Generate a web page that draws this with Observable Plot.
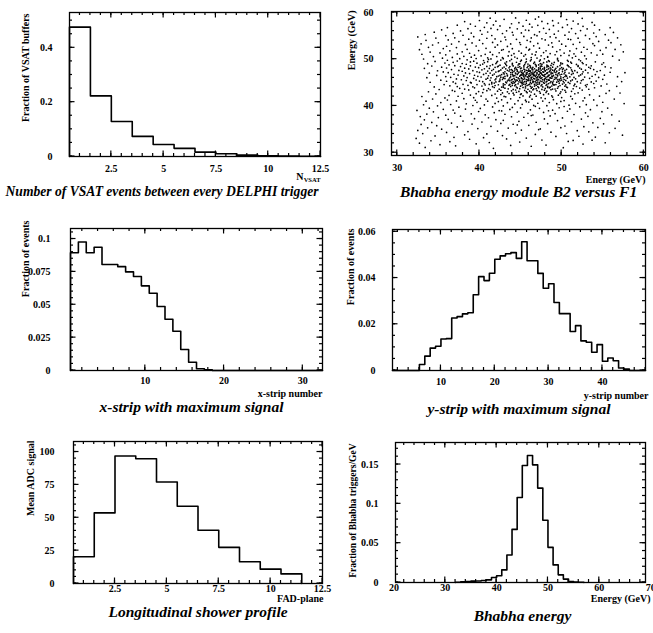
<!DOCTYPE html>
<html><head><meta charset="utf-8">
<script src="https://cdn.jsdelivr.net/npm/d3@7"></script>
<script src="https://cdn.jsdelivr.net/npm/@observablehq/plot@0.6"></script>
<style>
body{margin:0;background:#fff}
#page{position:relative;width:653px;height:633px;background:#fff;overflow:hidden}
#page > svg{position:absolute;overflow:visible}
</style></head><body><div id="page"></div>
<script>
// ---------- data ----------
const vsatN = [1,2,3,4,5,6,7,8,9,10,11,12];
const vsatFraction = [0.476,0.223,0.129,0.074,0.044,0.030,0.016,0.010,0.005,0.003,0.002,0.001];

const xStripNumber = Array.from({length:32},(_,i)=>i+1);
const xStripFraction = [0.0896,0.0977,0.0896,0.0937,0.0806,0.0806,0.0790,0.0750,0.0715,0.0644,0.0588,0.0487,0.0390,0.0298,0.0160,0.0063,0.0013,0.0005,0,0,0,0,0,0,0,0,0,0,0,0,0,0];

const yStripNumber = Array.from({length:47},(_,i)=>i+1);
const yStripFraction = [0,0,0,0,0,0.0026,0.0062,0.0097,0.0105,0.0136,0.0138,0.0227,0.0233,0.0245,0.0250,0.0328,0.0406,0.0389,0.0421,0.0481,0.0496,0.0505,0.0510,0.0485,0.0557,0.0475,0.0475,0.0420,0.0356,0.0375,0.0294,0.0246,0.0246,0.0169,0.0194,0.0128,0.0122,0.0079,0.0112,0.0040,0.0054,0.0042,0.0011,0.0006,0,0,0];

const fadPlane = [1,2,3,4,5,6,7,8,9,10,11];
const meanADC = [20.3,53.7,97.0,94.9,77.2,58.7,40.5,27.5,16.5,10.9,7.3];

const bhabhaEnergy = [32,33,34,35,36,37,38,39,40,41,42,43,44,45,46,47,48,49,50,51,52,53,54,55,56];
const bhabhaFraction = [0.0004,0.0008,0.0012,0.0018,0.0020,0.0025,0.0034,0.0063,0.0085,0.0160,0.0350,0.0675,0.1080,0.1487,0.1614,0.1496,0.1200,0.0792,0.0447,0.0224,0.0097,0.0043,0.0013,0.0006,0.0003];

// scatter: [energy F1 (x), energy B2 (y)] — halo below the core
const scatterHaloLow = [
[33.4,31.12],[37.1,31.46],[41.7,30.93],[46.3,31.38],[50.2,31.07],[35.2,31.71],[43.8,31.55],[52.6,31.84],[39.6,31.9],[48.1,31.62],
[55.3,32.13],[32.7,32.04],[44.9,32.29],[50.8,32.41],[36.4,32.36],[41.2,32.18],[53.7,32.67],[34.1,32.55],[47.6,32.72],[38.8,32.88],[43.3,32.94],[51.4,32.63],
[32.3,33.05],[40.5,33.21],[45.7,33.12],[54.1,33.34],[36.9,33.29],[49.3,33.47],[34.6,33.58],[42.8,33.66],[52.1,33.52],[57.4,33.74],[38.2,33.83],[46.8,33.91],
[33.1,34.08],[40.9,34.02],[44.4,34.19],[50.6,34.11],[55.8,34.27],[36.0,34.33],[48.7,34.38],[38.6,34.52],[42.2,34.61],[53.3,34.46],[32.5,34.77],[45.1,34.83],[51.9,34.72],[47.2,34.95],
[35.4,35.03],[39.8,35.16],[47.4,35.09],[56.5,35.22],[33.7,35.31],[43.5,35.27],[49.9,35.36],[54.4,35.41],[37.3,35.52],[41.4,35.63],[52.7,35.57],[34.8,35.78],[46.0,35.86],[50.4,35.71],[44.6,35.94],
[32.9,36.04],[39.1,36.12],[44.1,36.08],[48.3,36.21],[55.1,36.17],[36.6,36.33],[42.6,36.27],[53.8,36.39],[34.2,36.48],[40.3,36.56],[46.9,36.51],[51.2,36.62],[38.0,36.77],[44.8,36.71],[49.5,36.86],[57.0,36.74],[42.9,36.93],
[33.3,37.02],[36.2,37.14],[42.0,37.06],[52.4,37.19],[39.4,37.28],[47.9,37.23],[54.7,37.36],[35.0,37.51],[41.1,37.47],[45.4,37.58],[50.1,37.44],[32.8,37.73],[37.7,37.81],[43.9,37.69],[48.6,37.86],[53.2,37.77],[46.3,37.95],
[35.9,38.03],[40.7,38.11],[46.5,38.06],[51.5,38.17],[56.1,38.09],[33.6,38.26],[39.0,38.31],[43.1,38.22],[49.2,38.35],[37.0,38.48],[41.8,38.55],[45.9,38.43],[47.8,38.61],[52.9,38.52],[34.4,38.74],[39.9,38.81],[44.6,38.69],[50.7,38.86],[54.9,38.77],[42.7,38.93],[48.4,38.97],
[32.4,39.04],[36.8,39.12],[42.4,39.01],[46.2,39.16],[48.9,39.09],[53.5,39.21],[35.6,39.28],[38.3,39.33],[43.7,39.25],[51.0,39.37],[33.9,39.52],[40.1,39.46],[45.0,39.58],[47.3,39.49],[49.7,39.61],[55.6,39.55],[37.5,39.73],[41.6,39.79],[44.0,39.68],[52.2,39.82],[46.8,39.91],[50.3,39.88],
[34.9,40.03],[39.2,40.09],[42.9,40.01],[46.6,40.12],[48.2,40.06],[50.9,40.17],[54.3,40.11],[33.2,40.26],[36.5,40.31],[40.6,40.22],[45.2,40.35],[53.0,40.28],[38.4,40.47],[41.9,40.53],[44.3,40.44],[47.1,40.58],[49.4,40.49],[51.7,40.56],[57.6,40.51],[35.3,40.72],[39.7,40.78],[43.4,40.69],[46.0,40.83],[48.5,40.74],[55.0,40.79],[42.3,40.94],[45.7,40.91],[49.9,40.97],
[33.5,41.03],[37.2,41.08],[41.0,41.01],[44.7,41.12],[47.7,41.05],[50.3,41.15],[52.6,41.09],[36.1,41.27],[39.5,41.22],[42.7,41.31],[45.6,41.24],[49.0,41.33],[53.9,41.28],[34.3,41.48],[38.1,41.55],[40.8,41.46],[43.8,41.52],[46.4,41.44],[48.0,41.58],[51.3,41.51],[56.4,41.47],[35.8,41.72],[39.3,41.77],[42.1,41.69],[44.9,41.81],[47.5,41.74],[50.0,41.79],[52.8,41.71],[46.1,41.93],[43.2,41.96],[48.9,41.9],
[33.0,42.02],[37.4,42.07],[40.2,42.11],[43.0,42.04],[45.3,42.14],[46.9,42.09],[48.8,42.17],[51.1,42.06],[54.6,42.12],[36.3,42.28],[38.9,42.33],[41.5,42.24],[44.2,42.36],[46.2,42.29],[47.8,42.41],[49.6,42.31],[53.4,42.38],[42.6,42.45],[45.0,42.47]
];
// dense core
const scatterCore = [
[34.7,42.58],[37.9,42.71],[39.6,42.62],[40.4,42.86],[41.9,42.55],[42.8,42.79],[43.6,42.66],[44.5,42.93],[45.1,42.6],[45.8,42.83],[46.7,42.52],[47.4,42.74],[48.1,42.89],[48.4,42.57],[49.8,42.68],[50.5,42.95],[51.6,42.61],[52.0,42.8],[55.4,42.7],[57.1,42.77],[44.1,42.73],[46.3,42.98],
[33.8,43.04],[36.7,43.31],[37.0,43.12],[38.7,43.42],[39.9,43.08],[40.9,43.27],[41.3,43.46],[42.2,43.15],[42.6,43.36],[43.4,43.02],[43.9,43.24],[44.4,43.41],[44.8,43.11],[45.5,43.33],[45.7,43.06],[46.1,43.19],[46.5,43.44],[47.0,43.29],[47.3,43.09],[47.9,43.38],[48.2,43.16],[48.7,43.47],[49.3,43.22],[49.9,43.03],[50.4,43.35],[51.2,43.13],[52.5,43.4],[55.8,43.26],
[35.1,43.52],[37.6,43.77],[38.2,43.61],[39.4,43.88],[40.5,43.55],[41.1,43.72],[41.8,43.94],[42.4,43.59],[43.1,43.81],[43.5,43.66],[44.1,43.53],[44.6,43.86],[44.9,43.7],[45.3,43.97],[45.9,43.57],[46.3,43.79],[46.6,43.63],[47.2,43.91],[47.6,43.54],[48.0,43.74],[48.5,43.87],[48.9,43.6],[49.5,43.78],[50.1,43.51],[50.7,43.93],[51.4,43.68],[52.2,43.83],[53.3,43.57],[54.0,43.89],[42.9,43.99],[45.6,43.84],[46.9,43.69],[48.3,43.96],[49.2,43.62],
[34.5,44.06],[36.4,44.31],[37.3,44.14],[38.6,44.42],[39.2,44.09],[40.3,44.27],[40.7,44.48],[41.6,44.12],[41.9,44.37],[42.7,44.03],[42.9,44.29],[43.6,44.45],[43.8,44.17],[44.3,44.34],[44.5,44.05],[45.0,44.23],[45.2,44.47],[45.6,44.11],[45.8,44.39],[46.2,44.2],[46.4,44.02],[46.9,44.44],[47.1,44.15],[47.5,44.3],[47.7,44.07],[48.1,44.41],[48.3,44.18],[48.8,44.26],[49.1,44.49],[49.6,44.13],[49.8,44.36],[50.4,44.22],[50.6,44.04],[51.5,44.33],[51.8,44.16],[52.9,44.43],[53.0,44.1],[54.8,44.28],[56.7,44.19],[44.0,44.4],[46.7,44.25],[48.6,44.01],
[35.7,44.56],[37.1,44.81],[38.0,44.63],[39.0,44.92],[39.7,44.58],[40.6,44.77],[41.2,44.6],[41.8,44.89],[42.3,44.53],[42.9,44.71],[43.3,44.95],[43.7,44.62],[44.0,44.84],[44.4,44.54],[44.7,44.74],[45.1,44.98],[45.4,44.66],[45.7,44.87],[46.0,44.52],[46.3,44.79],[46.7,44.61],[46.9,44.93],[47.3,44.7],[47.6,44.55],[47.9,44.85],[48.2,44.64],[48.6,44.96],[48.9,44.73],[49.3,44.57],[49.7,44.88],[50.1,44.68],[50.5,44.51],[51.0,44.82],[51.6,44.65],[52.3,44.91],[53.1,44.59],[53.9,44.8],[55.5,44.69],[43.1,44.57],[44.2,44.9],[45.6,44.53],[46.5,44.99],[47.1,44.66],[48.4,44.78],[49.0,44.52],[50.3,44.94],[41.5,44.72],[46.1,44.68],[47.8,44.97],[45.2,44.81],
[34.0,45.07],[36.0,45.28],[36.8,45.13],[38.4,45.44],[38.9,45.06],[40.0,45.31],[40.4,45.18],[41.3,45.47],[41.5,45.02],[42.4,45.25],[42.5,45.39],[43.2,45.11],[43.4,45.33],[43.9,45.04],[44.1,45.21],[44.6,45.46],[44.8,45.15],[45.2,45.36],[45.3,45.05],[45.7,45.27],[45.9,45.42],[46.2,45.09],[46.5,45.3],[46.8,45.17],[47.0,45.45],[47.3,45.01],[47.6,45.24],[47.9,45.38],[48.1,45.12],[48.4,45.49],[48.7,45.2],[49.0,45.34],[49.4,45.08],[49.8,45.41],[50.2,45.23],[50.8,45.03],[51.1,45.35],[51.9,45.19],[52.4,45.43],[53.6,45.14],[54.2,45.32],[57.3,45.22],[44.4,45.29],[45.0,45.12],[46.0,45.48],[46.6,45.22],[47.4,45.33],[48.2,45.26],[48.9,45.02],[43.7,45.4],[45.5,45.19],[47.1,45.1],[42.0,45.14],[49.6,45.28],[50.5,45.46],[44.3,45.07],
[35.3,45.52],[37.2,45.78],[37.8,45.6],[39.3,45.88],[39.6,45.55],[40.8,45.72],[41.0,45.94],[41.9,45.58],[42.0,45.81],[42.8,45.66],[42.9,45.97],[43.5,45.53],[43.6,45.76],[44.2,45.91],[44.3,45.62],[44.8,45.83],[44.9,45.51],[45.4,45.7],[45.5,45.95],[45.9,45.57],[46.0,45.79],[46.4,45.64],[46.6,45.89],[46.9,45.54],[47.1,45.74],[47.4,45.98],[47.7,45.61],[48.0,45.85],[48.2,45.68],[48.5,45.52],[48.8,45.93],[49.1,45.71],[49.5,45.59],[49.9,45.86],[50.3,45.66],[50.7,45.96],[51.3,45.56],[51.7,45.8],[52.6,45.63],[53.4,45.9],[55.0,45.69],[43.1,45.85],[44.5,45.55],[45.1,45.92],[45.7,45.66],[46.2,45.51],[46.7,45.81],[47.2,45.6],[47.9,45.73],[48.6,45.99],[49.3,45.82],[50.0,45.53],[44.0,45.69],[46.3,45.97],[47.5,45.86],[45.2,45.77],[48.4,45.63],[43.9,45.58],[42.5,45.75],[49.7,45.67],
[33.6,46.04],[35.9,46.29],[36.5,46.12],[38.1,46.43],[38.5,46.07],[39.8,46.33],[40.2,46.19],[41.1,46.46],[41.4,46.02],[42.1,46.26],[42.3,46.4],[42.9,46.09],[43.1,46.31],[43.7,46.03],[43.8,46.22],[44.3,46.47],[44.5,46.14],[44.9,46.36],[45.1,46.06],[45.4,46.27],[45.6,46.44],[45.9,46.1],[46.1,46.32],[46.4,46.18],[46.6,46.48],[46.9,46.01],[47.1,46.25],[47.4,46.39],[47.6,46.08],[47.9,46.34],[48.1,46.16],[48.4,46.45],[48.6,46.05],[48.9,46.28],[49.2,46.13],[49.5,46.41],[49.9,46.2],[50.2,46.07],[50.6,46.37],[51.0,46.23],[51.5,46.11],[52.1,46.42],[52.8,46.17],[53.7,46.35],[54.5,46.09],[56.8,46.26],[44.1,46.38],[44.7,46.02],[45.3,46.49],[45.8,46.24],[46.3,46.05],[46.8,46.35],[47.3,46.15],[47.8,46.46],[48.3,46.27],[48.8,46.38],[49.4,46.03],[43.4,46.43],[42.6,46.15],[50.4,46.3],[46.0,46.41],[47.0,46.11],
[34.8,46.53],[36.9,46.78],[37.4,46.61],[38.8,46.92],[39.4,46.56],[40.5,46.74],[40.8,46.97],[41.6,46.59],[41.8,46.83],[42.5,46.52],[42.7,46.71],[43.3,46.94],[43.4,46.6],[44.0,46.8],[44.1,46.54],[44.6,46.73],[44.7,46.98],[45.1,46.63],[45.2,46.85],[45.6,46.51],[45.7,46.76],[46.1,46.91],[46.2,46.58],[46.6,46.79],[46.7,46.55],[47.0,46.88],[47.2,46.64],[47.5,46.99],[47.7,46.57],[48.0,46.77],[48.2,46.93],[48.5,46.62],[48.7,46.84],[49.0,46.53],[49.3,46.72],[49.6,46.95],[49.8,46.66],[50.3,46.87],[50.5,46.59],[51.2,46.75],[51.4,46.96],[52.3,46.63],[52.5,46.86],[54.1,46.7],[55.2,46.58],[43.8,46.67],[44.4,46.9],[45.0,46.57],[45.4,46.69],[45.9,46.83],[46.4,46.7],[46.9,46.6],[47.3,46.82],[47.9,46.67],[48.4,46.52],[48.9,46.97],[49.5,46.61],[43.0,46.85],[46.5,46.96],[47.6,46.74],[45.3,46.93],[50.0,46.78],
[33.9,47.03],[35.6,47.27],[36.2,47.11],[37.9,47.42],[38.3,47.06],[39.7,47.31],[40.0,47.17],[41.0,47.46],[41.3,47.02],[42.0,47.24],[42.3,47.38],[42.9,47.08],[43.1,47.29],[43.6,47.45],[43.8,47.13],[44.2,47.35],[44.4,47.04],[44.8,47.22],[45.0,47.47],[45.3,47.1],[45.5,47.33],[45.8,47.19],[46.0,47.44],[46.3,47.07],[46.5,47.26],[46.8,47.4],[47.0,47.12],[47.3,47.36],[47.5,47.01],[47.8,47.23],[48.0,47.48],[48.3,47.15],[48.5,47.32],[48.8,47.05],[49.1,47.28],[49.4,47.43],[49.7,47.09],[50.1,47.34],[50.4,47.2],[50.9,47.03],[51.3,47.39],[51.9,47.16],[52.6,47.3],[53.2,47.08],[54.3,47.37],[55.9,47.21],[57.7,47.12],[44.6,47.41],[45.1,47.16],[45.7,47.03],[46.2,47.31],[46.7,47.17],[47.2,47.46],[47.7,47.31],[48.2,47.02],[48.7,47.25],[49.3,47.14],[44.0,47.21],[46.1,47.49],[47.4,47.18],
[34.9,47.53],[36.6,47.77],[37.5,47.6],[38.7,47.91],[39.2,47.55],[40.3,47.73],[40.6,47.96],[41.5,47.58],[41.7,47.84],[42.4,47.52],[42.6,47.7],[43.2,47.93],[43.4,47.61],[43.9,47.79],[44.0,47.56],[44.5,47.86],[44.6,47.67],[45.0,47.99],[45.2,47.54],[45.5,47.76],[45.7,47.63],[46.0,47.89],[46.2,47.51],[46.5,47.72],[46.7,47.95],[47.0,47.59],[47.2,47.8],[47.5,47.66],[47.7,47.92],[48.0,47.53],[48.2,47.75],[48.6,47.62],[48.7,47.88],[49.1,47.57],[49.2,47.81],[49.7,47.69],[49.8,47.97],[50.4,47.6],[50.6,47.83],[51.2,47.71],[51.6,47.55],[52.4,47.87],[52.9,47.64],[53.9,47.78],[54.7,47.58],[44.3,47.69],[45.9,47.57],[46.4,47.82],[46.9,47.68],[47.4,47.98],[47.9,47.74],[48.4,47.94],[48.9,47.65],[45.4,47.9],[43.7,47.74],[50.1,47.77],
[33.3,48.04],[35.4,48.29],[36.0,48.12],[37.7,48.43],[38.2,48.07],[39.5,48.31],[39.9,48.18],[40.9,48.46],[41.2,48.02],[41.9,48.26],[42.2,48.38],[42.8,48.09],[43.0,48.32],[43.6,48.15],[43.7,48.44],[44.3,48.05],[44.4,48.24],[44.9,48.4],[45.1,48.11],[45.4,48.33],[45.8,48.2],[45.9,48.48],[46.4,48.08],[46.5,48.27],[46.9,48.42],[47.2,48.14],[47.4,48.35],[47.9,48.03],[47.9,48.23],[48.4,48.46],[48.6,48.13],[48.9,48.3],[49.3,48.06],[49.5,48.39],[50.0,48.21],[50.2,48.02],[50.9,48.36],[51.1,48.17],[52.0,48.44],[52.2,48.1],[53.3,48.28],[53.5,48.05],[55.3,48.37],[56.0,48.16],[44.7,48.28],[46.2,48.18],[47.6,48.47],[48.2,48.34],
[34.2,48.54],[36.3,48.79],[37.0,48.62],[38.4,48.92],[38.9,48.57],[40.1,48.74],[40.4,48.96],[41.3,48.6],[41.6,48.83],[42.3,48.52],[42.5,48.71],[43.2,48.94],[43.3,48.63],[44.0,48.81],[44.1,48.55],[44.7,48.76],[44.8,48.99],[45.4,48.58],[45.5,48.85],[46.1,48.67],[46.2,48.53],[46.8,48.89],[46.9,48.7],[47.5,48.59],[47.6,48.93],[48.2,48.75],[48.3,48.56],[49.0,48.86],[49.8,48.64],[49.9,48.97],[50.7,48.72],[50.8,48.55],[51.8,48.88],[52.0,48.61],[53.0,48.8],[53.6,48.58],[54.9,48.91],[45.9,48.95],[47.2,48.78],[48.7,48.66],
[33.7,49.04],[35.8,49.19],[36.8,49.33],[37.9,49.08],[38.9,49.41],[39.7,49.14],[40.6,49.27],[41.0,49.46],[42.0,49.06],[42.1,49.3],[43.1,49.17],[43.3,49.44],[44.0,49.09],[44.5,49.35],[44.9,49.02],[45.6,49.23],[45.7,49.48],[46.6,49.12],[46.7,49.37],[47.4,49.05],[47.8,49.26],[48.2,49.42],[48.8,49.11],[49.1,49.31],[49.9,49.2],[50.1,49.03],[51.1,49.39],[51.2,49.15],[52.5,49.29],[52.6,49.07],[54.1,49.43],[55.1,49.24],
[34.6,49.53],[36.1,49.77],[37.3,49.61],[38.5,49.86],[39.3,49.58],[40.5,49.72],[41.1,49.94],[42.2,49.56],[42.6,49.82],[43.7,49.67],[43.9,49.98],[45.0,49.54],[45.1,49.79],[46.2,49.64],[46.3,49.91],[47.3,49.59],[47.4,49.84],[48.4,49.71],[48.5,49.52],[49.5,49.88],[49.6,49.63],[50.7,49.75],[50.8,49.55],[52.1,49.92],[52.3,49.66],[57.0,49.8],
[33.2,50.04],[35.5,50.21],[36.7,50.37],[37.6,50.1],[39.0,50.44],[39.6,50.15],[41.0,50.29],[41.4,50.06],[42.8,50.33],[42.9,50.12],[44.3,50.47],[44.6,50.19],[45.7,50.03],[46.3,50.36],[47.0,50.24],[47.9,50.09],[48.3,50.41],[49.5,50.17],[51.3,50.3],[53.0,50.08]
];
// halo above the core
const scatterHaloHigh = [
[34.4,50.55],[38.1,50.61],[40.2,50.72],[42.1,50.58],[43.9,50.83],[45.4,50.66],[46.8,50.91],[48.3,50.57],[49.9,50.78],[51.7,50.63],[54.3,50.88],[35.9,50.94],[39.4,50.86],[41.6,50.97],[43.5,50.69],[45.6,50.99],[47.5,50.74],[49.2,50.95],[50.9,50.81],[52.8,50.71],[56.2,50.65],
[33.0,51.06],[37.3,51.12],[40.7,51.03],[44.2,51.18],[46.4,51.09],[48.6,51.21],[51.5,51.14],[55.0,51.07],[35.2,51.33],[38.8,51.27],[42.4,51.38],[45.1,51.29],[47.8,51.41],[50.3,51.31],[53.6,51.36],[34.0,51.52],[37.9,51.58],[41.3,51.49],[43.6,51.61],[46.9,51.55],[49.4,51.63],[52.4,51.51],[57.5,51.57],[36.4,51.78],[39.9,51.84],[44.8,51.73],[48.1,51.81],[51.0,51.76],[54.7,51.89],[46.0,51.95],[42.7,51.92],
[32.7,52.04],[38.5,52.11],[42.9,52.07],[46.1,52.15],[49.8,52.02],[53.1,52.13],[56.5,52.09],[35.6,52.28],[40.8,52.33],[44.0,52.24],[47.3,52.36],[51.8,52.27],[33.8,52.53],[37.2,52.49],[41.9,52.58],[45.7,52.51],[48.9,52.62],[52.7,52.55],[55.4,52.47],[36.0,52.77],[39.6,52.82],[43.4,52.74],[46.6,52.86],[50.5,52.79],[54.0,52.91],
[34.3,53.03],[38.3,53.11],[42.2,53.06],[45.0,53.14],[48.4,53.02],[51.4,53.17],[57.2,53.09],[32.9,53.29],[36.6,53.24],[40.4,53.33],[43.8,53.26],[47.1,53.38],[50.0,53.22],[53.8,53.31],[35.0,53.52],[39.1,53.47],[41.6,53.58],[44.9,53.55],[48.8,53.49],[52.2,53.61],[56.0,53.53],[37.5,53.77],[42.6,53.82],[46.2,53.74],[49.7,53.88],[54.5,53.79],
[33.5,54.03],[36.2,54.12],[40.0,54.07],[43.2,54.16],[45.8,54.04],[48.0,54.11],[51.1,54.19],[55.7,54.06],[38.7,54.28],[41.9,54.33],[44.5,54.24],[47.6,54.37],[50.8,54.29],[53.4,54.35],[34.7,54.52],[37.0,54.57],[40.9,54.48],[46.3,54.55],[49.3,54.61],[52.0,54.5],[56.8,54.58],[32.5,54.77],[39.3,54.81],[43.1,54.73],[45.4,54.86],[48.6,54.78],[54.2,54.83],
[35.9,55.04],[38.0,55.12],[41.5,55.07],[44.1,55.16],[47.0,55.02],[50.4,55.13],[52.9,55.09],[33.4,55.28],[40.3,55.33],[46.7,55.24],[49.1,55.36],[55.3,55.27],[36.8,55.52],[39.0,55.58],[42.8,55.49],[45.1,55.61],[48.1,55.55],[51.7,55.47],[53.9,55.6],[34.5,55.77],[41.0,55.82],[44.0,55.74],[47.3,55.86],[50.9,55.79],[56.3,55.72],
[37.7,56.04],[40.1,56.12],[43.3,56.07],[46.0,56.16],[49.6,56.03],[52.3,56.11],[35.4,56.28],[42.2,56.33],[45.6,56.24],[48.5,56.36],[54.6,56.27],[38.6,56.52],[41.4,56.58],[44.6,56.49],[47.8,56.61],[51.2,56.55],[53.1,56.47],[36.1,56.77],[40.6,56.82],[43.7,56.74],[46.4,56.86],[50.1,56.79],[55.9,56.73],
[39.5,57.04],[42.5,57.12],[45.3,57.07],[49.0,57.16],[52.6,57.03],[37.3,57.28],[41.7,57.33],[47.1,57.24],[50.7,57.36],[54.0,57.27],[38.9,57.52],[43.9,57.58],[46.1,57.49],[48.3,57.61],[52.0,57.55],[40.9,57.77],[44.8,57.82],[49.6,57.74],[53.7,57.86],
[38.2,58.04],[42.0,58.12],[47.6,58.07],[51.4,58.16],[40.0,58.28],[45.7,58.33],[48.9,58.24],[43.0,58.52],[46.8,58.58],[50.6,58.49],[41.3,58.77],[44.4,58.82],[52.5,58.74],[47.2,59.04],[49.9,59.11]
];

// tick labels
const ticksHalfDozen = [2.5,5,7.5,10,12.5];
const ticksEnergy30 = [30,40,50,60];
const ticksStripX = [10,20,30];
const ticksStripY = [10,20,30,40];
const ticksEnergy20 = [20,30,40,50,60,70];
const yTicksVsat = [0,0.2,0.4];
const yTicksXStrip = [0,0.025,0.05,0.075,0.1];
const yTicksYStrip = [0,0.02,0.04,0.06];
const yTicksADC = [0,25,50,75,100];
const yTicksBhabha = [0,0.05,0.1,0.15];

// ---------- helpers ----------
const SERIF = "'Liberation Serif','DejaVu Serif',serif";
const page = document.getElementById("page");
function range(a,b,s){const o=[];for(let i=0;a+i*s<=b+1e-9;i++)o.push(+(a+i*s).toFixed(6));return o;}
function steps(lows, width, values){
  const pts=[{x:lows[0],y:0}];
  values.forEach((v,i)=>pts.push({x:lows[i],y:v}));
  const last=values.length-1;
  pts.push({x:lows[last]+width,y:values[last]},{x:lows[last]+width,y:0});
  return pts;
}
const fmt = d => String(d);
function inDomain(ticks, dom){ const lo=Math.min(dom[0],dom[1]), hi=Math.max(dom[0],dom[1]); return ticks.filter(v => v >= lo-1e-9 && v <= hi+1e-9); }
function frameMarks(c){
  const m = [Plot.frame({stroke:"black", strokeWidth:1.3})];
  const ts = {label:null, tickSize:0, fontFamily:SERIF, fontWeight:"bold", fontSize:10, tickFormat:fmt};
  m.push(Plot.axisX(c.xMajor,{anchor:"bottom", tickPadding:c.xPad, lineAnchor:"middle", ...ts}));
  m.push(Plot.axisY(c.yMajor,{anchor:"left", tickPadding:c.yPad, ...ts}));
  m.push(Plot.text([c.yLabel],{frameAnchor:"top-left", text:d=>d, rotate:-90, textAnchor:"end", lineAnchor:"middle",
    dx:c.yDx, dy:c.yDy, fontFamily:SERIF, fontWeight:"bold", fontSize:c.yFont||10}));
  if (c.xLabel) m.push(Plot.text([c.xLabel],{frameAnchor:"bottom-right", text:d=>d, textAnchor:"end", lineAnchor:"middle",
    dx:c.xDx||0, dy:c.xDy, fontFamily:SERIF, fontWeight:"bold", fontSize:10}));
  m.push(Plot.text([c.caption],{frameAnchor:"bottom", text:d=>d, lineAnchor:"middle", dx:c.capDx||0, dy:c.capDy,
    fontFamily:SERIF, fontWeight:"bold", fontStyle:"italic", fontSize:c.capFont||15.5}));
  return m;
}
// inward tick marks on all four frame sides, positioned with the plot's own x/y scales
function addInwardTicks(svg, c){
  const sx = svg.scale("x"), sy = svg.scale("y");
  const L = c.mL, R = c.w - c.mR, T = c.mT, B = c.h - c.mB;
  const g = d3.select(svg).append("g").attr("aria-label","frame ticks")
    .attr("stroke","black").attr("stroke-width",1.2).attr("fill","none");
  const xs = [[inDomain(c.xMajor,c.xDomain),5.5],[inDomain(c.xMinor,c.xDomain),3]];
  const ys = [[inDomain(c.yMajor,c.yDomain),5.5],[inDomain(c.yMinor,c.yDomain),3]];
  for (const [tv,s] of xs) for (const v of tv) {
    const px = sx.apply(v);
    g.append("line").attr("x1",px).attr("x2",px).attr("y1",B).attr("y2",B-s);
    g.append("line").attr("x1",px).attr("x2",px).attr("y1",T).attr("y2",T+s);
  }
  for (const [tv,s] of ys) for (const v of tv) {
    const py = sy.apply(v);
    g.append("line").attr("y1",py).attr("y2",py).attr("x1",L).attr("x2",L+s);
    g.append("line").attr("y1",py).attr("y2",py).attr("x1",R).attr("x2",R-s);
  }
}
function panel(c){
  const svg = Plot.plot({
    width:c.w, height:c.h, marginLeft:c.mL, marginRight:c.mR, marginTop:c.mT, marginBottom:c.mB,
    x:{domain:c.xDomain}, y:{domain:c.yDomain},
    style:{background:"transparent", color:"black", overflow:"visible"},
    marks:[...c.marks, ...frameMarks(c), ...(c.extra||[])]
  });
  addInwardTicks(svg, c);
  svg.style.left = c.left+"px"; svg.style.top = c.top+"px";
  page.appendChild(svg);
}
const histLine = (pts) => Plot.line(pts,{x:"x", y:"y", curve:"step-after", stroke:"black", strokeWidth:1.6});

// ---------- panel 1 ----------
panel({left:0, top:0, w:326, h:205, mL:69, mR:6, mT:12, mB:49,
  xDomain:[0.5,12.5], yDomain:[0,0.53],
  xMajor:ticksHalfDozen, xMinor:range(1,12,0.5), yMajor:yTicksVsat, yMinor:range(0,0.5,0.05),
  xPad:12, yPad:17, yLabel:"Fraction of VSAT buffers", yDx:-44, yDy:1,
  caption:"Number of VSAT events between every DELPHI trigger", capDx:-33, capDy:35, capFont:13.6,
  marks:[histLine(steps(vsatN.map(n=>n-0.5),1,vsatFraction))],
  extra:[
    Plot.text(["N"],{frameAnchor:"bottom-right", text:d=>d, textAnchor:"end", lineAnchor:"middle", dx:-17, dy:20, fontFamily:SERIF, fontWeight:"bold", fontSize:10}),
    Plot.text(["VSAT"],{frameAnchor:"bottom-right", text:d=>d, textAnchor:"end", lineAnchor:"middle", dx:0, dy:23, fontFamily:SERIF, fontWeight:"bold", fontSize:6.5})
  ]});

// ---------- panel 2 ----------
const scatterPoints = [...scatterHaloLow, ...scatterCore, ...scatterHaloHigh];
panel({left:326, top:0, w:327, h:205, mL:65, mR:8, mT:11, mB:50,
  xDomain:[29.3,60.2], yDomain:[29.4,60.2],
  xMajor:ticksEnergy30, xMinor:range(30,60,2), yMajor:ticksEnergy30, yMinor:range(30,60,2),
  xPad:12, yPad:18, yLabel:"Energy (GeV)", yDx:-40, yDy:-1, xLabel:"Energy (GeV)", xDy:24,
  caption:"Bhabha energy module B2 versus F1", capDy:37,
  marks:[Plot.dot(scatterPoints,{x:d=>d[0], y:d=>d[1], r:0.85, fill:"black"})]});

// ---------- panel 3 ----------
panel({left:0, top:205, w:326, h:215, mL:70, mR:4, mT:23, mB:50,
  xDomain:[0.5,32.5], yDomain:[0,0.108],
  xMajor:ticksStripX, xMinor:range(2,32,2), yMajor:yTicksXStrip, yMinor:range(0,0.105,0.005),
  xPad:10, yPad:20, yLabel:"Fraction of events", yDx:-45, yDy:-8, xLabel:"x-strip number", xDy:23.5,
  caption:"x-strip with maximum signal", capDx:-5, capDy:37,
  marks:[histLine(steps(xStripNumber.map(n=>n-0.5),1,xStripFraction))]});

// ---------- panel 4 ----------
panel({left:326, top:205, w:327, h:215, mL:66, mR:8, mT:24, mB:50,
  xDomain:[1,48], yDomain:[0,0.061],
  xMajor:ticksStripY, xMinor:range(2,48,2), yMajor:yTicksYStrip, yMinor:range(0,0.06,0.005),
  xPad:11, yPad:17, yLabel:"Fraction of events", yDx:-42, yDy:-1, xLabel:"y-strip number", xDy:25, xDx:3,
  caption:"y-strip with maximum signal", capDy:38.5,
  marks:[histLine(steps(yStripNumber,1,yStripFraction))]});

// ---------- panel 5 ----------
panel({left:0, top:420, w:326, h:213, mL:73, mR:4, mT:21, mB:50,
  xDomain:[0.5,12.5], yDomain:[0,108],
  xMajor:ticksHalfDozen, xMinor:range(1,12,0.5), yMajor:yTicksADC, yMinor:range(0,105,5),
  xPad:5, yPad:19, yLabel:"Mean ADC signal", yDx:-43, yDy:-1, xLabel:"FAD-plane", xDy:15, xDx:1,
  caption:"Longitudinal shower profile", capDy:29,
  marks:[histLine(steps(fadPlane.map(n=>n-0.5),1,meanADC))]});

// ---------- panel 6 ----------
panel({left:326, top:420, w:327, h:213, mL:69, mR:8, mT:22, mB:51,
  xDomain:[20.3,69], yDomain:[0,0.178],
  xMajor:ticksEnergy20, xMinor:range(22,68,2), yMajor:yTicksBhabha, yMinor:range(0,0.17,0.01),
  xPad:5, yPad:17, yLabel:"Fraction of Bhabha triggers/GeV", yFont:9.5, yDx:-43, yDy:1, xLabel:"Energy (GeV)", xDy:16, xDx:5,
  caption:"Bhabha energy", capDx:2, capDy:34,
  marks:[histLine(steps(bhabhaEnergy,1,bhabhaFraction))]});
</script></body></html>
